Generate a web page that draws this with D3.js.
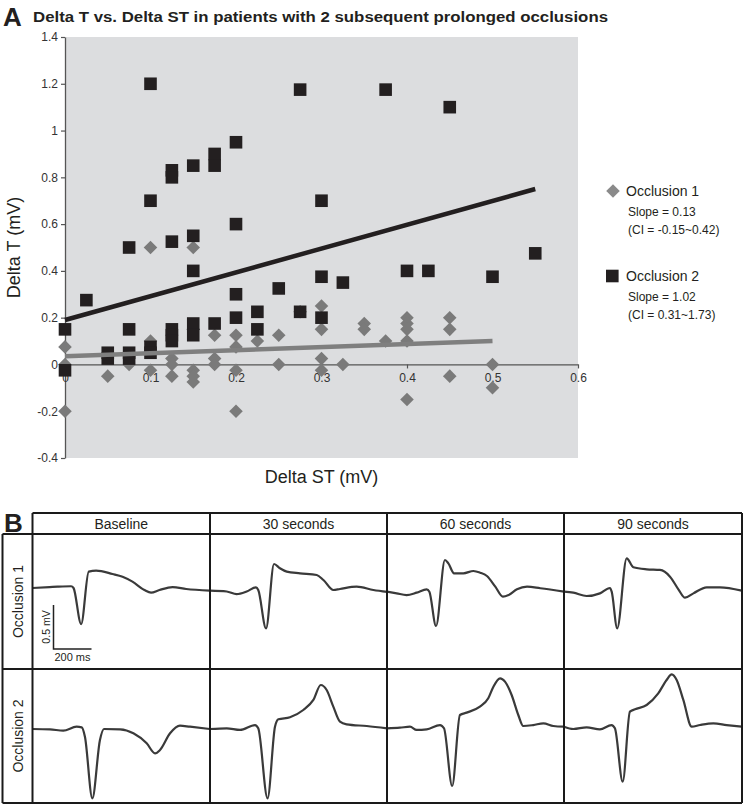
<!DOCTYPE html>
<html><head><meta charset="utf-8">
<script src="https://cdn.jsdelivr.net/npm/d3@7"></script>
<style>
body{margin:0;background:#fff;}
svg{display:block;font-family:"Liberation Sans",Arial,sans-serif;}
</style></head>
<body>
<svg id="chart" width="743" height="805"></svg>
<script>
// ---------- Panel A data ----------
const xTicks = [0, 0.1, 0.2, 0.3, 0.4, 0.5, 0.6];
const yTicks = [1.4, 1.2, 1, 0.8, 0.6, 0.4, 0.2, 0, -0.2, -0.4];
// Occlusion 1 (grey diamonds): [delta ST, delta T]
const occlusion1 = [
  [0,0.075],[0,0],[0,-0.2],[0.05,-0.05],[0.075,0],[0.1,0.5],[0.1,0.1],[0.1,-0.025],
  [0.125,0.025],[0.125,0],[0.125,-0.05],[0.15,0.5],[0.15,0.15],[0.15,-0.025],[0.15,-0.05],[0.15,-0.075],
  [0.175,0.125],[0.175,0.025],[0.175,0],[0.2,0.125],[0.2,0.075],[0.2,-0.025],[0.2,-0.2],
  [0.225,0.1],[0.25,0.125],[0.25,0],[0.275,0.225],[0.3,0.25],[0.3,0.15],[0.3,0.025],[0.3,-0.025],
  [0.325,0],[0.35,0.175],[0.35,0.15],[0.375,0.1],[0.4,0.2],[0.4,0.175],[0.4,0.15],[0.4,0.1],[0.4,-0.15],
  [0.45,0.2],[0.45,0.15],[0.45,-0.05],[0.5,0],[0.5,-0.1]
];
// Occlusion 2 (black squares)
const occlusion2 = [
  [0,0.15],[0,-0.025],[0.025,0.275],[0.05,0.05],[0.05,0.025],[0.075,0.5],[0.075,0.15],[0.075,0.05],[0.075,0.025],
  [0.1,1.2],[0.1,0.7],[0.1,0.075],[0.1,0.05],[0.125,0.83],[0.125,0.8],[0.125,0.525],[0.125,0.15],[0.125,0.125],[0.125,0.1],
  [0.15,0.85],[0.15,0.55],[0.15,0.4],[0.15,0.175],[0.15,0.125],[0.175,0.9],[0.175,0.85],[0.175,0.175],
  [0.2,0.95],[0.2,0.6],[0.2,0.3],[0.2,0.2],[0.225,0.225],[0.225,0.15],[0.25,0.325],[0.275,1.175],[0.275,0.225],
  [0.3,0.7],[0.3,0.375],[0.3,0.2],[0.325,0.35],[0.375,1.175],[0.4,0.4],[0.425,0.4],[0.45,1.1],[0.5,0.375],[0.55,0.475]
];
const trend1 = [[0,0.035],[0.5,0.1]];
const trend2 = [[0,0.19],[0.55,0.75]];
const legendNames = ["Occlusion 1","Occlusion 2"];
const legendSlopes = ["Slope = 0.13","Slope = 1.02"];
const legendCI = ["(CI = -0.15~0.42)","(CI = 0.31~1.73)"];

// ---------- Panel B data (ECG traces: [ms, mV]) ----------
const columnLabels = ["Baseline","30 seconds","60 seconds","90 seconds"];
const rowLabels = ["Occlusion 1","Occlusion 2"];
const occ1Baseline = [[0,0],[90,0.01],[132,0.015],[203,0.02],[216,0],[256,-0.41],[296,0.186],[335,0.197],[421,0.159],[474,0.128],[526,0.072],[589,-0.023],[624,-0.053],[668,-0.023],[737,0.011],[809,-0.011],[932,-0.03]];
const occ1Sec30 = [[0,-0.03],[88,-0.04],[140,-0.07],[193,-0.04],[242,0.008],[254,-0.023],[295,-0.459],[337,0.273],[368,0.224],[404,0.186],[474,0.167],[562,0.148],[597,0.091],[649,-0.023],[684,-0.011],[772,0.015],[860,-0.023],[932,-0.045]];
const occ1Sec60 = [[0,-0.042],[51,-0.061],[103,-0.08],[156,-0.053],[209,-0.015],[223,-0.042],[258,-0.432],[305,0.318],[323,0.28],[353,0.167],[402,0.167],[455,0.193],[490,0.174],[526,0.136],[570,0.015],[610,-0.099],[640,-0.08],[684,-0.015],[737,0.015],[807,-0.003],[932,-0.042]];
const occ1Sec90 = [[0,-0.042],[49,-0.053],[119,-0.091],[189,-0.061],[242,0],[251,-0.042],[280,-0.458],[330,0.337],[365,0.235],[435,0.212],[505,0.205],[558,0.129],[602,-0.015],[637,-0.11],[681,-0.061],[751,0.008],[821,0.008],[935,-0.03]];
const occ2Baseline = [[0,0],[92,-0.004],[162,-0.019],[232,0.026],[259,0.019],[276,-0.087],[315,-0.788],[355,-0.125],[376,0],[461,-0.004],[531,-0.049],[601,-0.163],[645,-0.277],[671,-0.239],[724,-0.049],[776,0.038],[829,0.026],[934,0]];
const occ2Sec30 = [[0,0],[88,0.008],[158,-0.011],[237,0.045],[254,0.008],[303,-0.788],[342,0.026],[360,0.11],[421,0.133],[491,0.216],[544,0.33],[583,0.5],[614,0.443],[649,0.254],[684,0.083],[719,0.053],[825,0.034],[932,0.008]];
const occ2Sec60 = [[0,0.008],[68,0.015],[121,0.026],[156,-0.011],[209,-0.004],[279,0.045],[300,0.008],[343,-0.648],[384,0.159],[419,0.186],[489,0.253],[533,0.349],[560,0.481],[595,0.576],[621,0.538],[656,0.386],[691,0.159],[717,0.034],[770,0.045],[823,0.064],[875,0.034],[932,0.026]];
const occ2Sec90 = [[0,0.026],[49,0],[119,0.019],[189,-0.004],[250,0.045],[268,0.008],[309,-0.599],[347,0.197],[374,0.224],[435,0.273],[496,0.405],[540,0.557],[567,0.621],[593,0.557],[628,0.33],[672,0.026],[716,0.045],[786,0.064],[856,0.045],[935,0.026]];
const scaleBarMv = 0.5, scaleBarMs = 200;

// ---------- Draw ----------
const svg = d3.select("#chart");
const ink = "#231f20";

// Panel A
svg.append("text").attr("x",3).attr("y",26).attr("font-size",26).attr("font-weight","bold").attr("fill",ink).text("A");
svg.append("text").attr("x",33).attr("y",22).attr("font-size",14.5).attr("font-weight","bold").attr("fill",ink)
  .attr("textLength",575).attr("lengthAdjust","spacingAndGlyphs")
  .text("Delta T vs. Delta ST in patients with 2 subsequent prolonged occlusions");

const x = d3.scaleLinear().domain([0,0.6]).range([65,578]);
const y = d3.scaleLinear().domain([-0.4,1.4]).range([458,37]);

svg.append("rect").attr("x",x(0)).attr("y",y(1.4)).attr("width",x(0.6)-x(0)).attr("height",y(-0.4)-y(1.4)).attr("fill","#dcdddf");

const yAxis = svg.append("g").attr("transform",`translate(${x(0)},0)`)
  .call(d3.axisLeft(y).tickValues(yTicks).tickSize(4).tickSizeOuter(0).tickFormat(d=>String(d)));
const xAxis = svg.append("g").attr("transform",`translate(0,${y(0)})`)
  .call(d3.axisBottom(x).tickValues(xTicks).tickSize(4).tickSizeOuter(0).tickFormat(d=>String(d)));
[yAxis,xAxis].forEach(g=>{
  g.select(".domain").attr("stroke","#555").attr("stroke-width",1.3);
  g.selectAll(".tick line").attr("stroke","#555").attr("stroke-width",1.2);
  g.selectAll(".tick text").attr("font-size",12).attr("fill","#333").attr("font-family","Liberation Sans, Arial, sans-serif");
});
yAxis.selectAll(".tick text").attr("x",-7);
xAxis.selectAll(".tick text").attr("y",9);

svg.append("text").attr("transform",`translate(20,${(y(1.4)+y(-0.4))/2}) rotate(-90)`).attr("text-anchor","middle")
  .attr("font-size",18).attr("fill",ink).text("Delta T (mV)");
svg.append("text").attr("x",(x(0)+x(0.6))/2).attr("y",483).attr("text-anchor","middle")
  .attr("font-size",18).attr("fill",ink).text("Delta ST (mV)");

const diamond = d3.symbol().type(d3.symbolSquare).size(92);
svg.append("g").selectAll("path").data(occlusion1).join("path")
  .attr("d",diamond).attr("transform",d=>`translate(${x(d[0])},${y(d[1])}) rotate(45)`).attr("fill","#7a7a7a");
svg.append("g").selectAll("rect").data(occlusion2).join("rect")
  .attr("x",d=>x(d[0])-6.3).attr("y",d=>y(d[1])-6.3).attr("width",12.6).attr("height",12.6).attr("fill",ink);

const ln = d3.line().x(d=>x(d[0])).y(d=>y(d[1]));
svg.append("path").attr("d",ln(trend1)).attr("stroke","#7f7f7f").attr("stroke-width",4.5).attr("fill","none");
svg.append("path").attr("d",ln(trend2)).attr("stroke",ink).attr("stroke-width",4.5).attr("fill","none");

// legend
const legY = [191, 276];
legendNames.forEach((n,i)=>{
  if(i===0){
    svg.append("path").attr("d",diamond).attr("transform",`translate(613,${legY[i]}) rotate(45)`).attr("fill","#8a8a8a");
  } else {
    svg.append("rect").attr("x",606).attr("y",legY[i]-6.3).attr("width",12.6).attr("height",12.6).attr("fill",ink);
  }
  svg.append("text").attr("x",626).attr("y",legY[i]+5).attr("font-size",14).attr("fill",ink).text(n);
  svg.append("text").attr("x",628).attr("y",legY[i]+25).attr("font-size",12).attr("fill",ink).text(legendSlopes[i]);
  svg.append("text").attr("x",628).attr("y",legY[i]+43).attr("font-size",12).attr("fill",ink).text(legendCI[i]);
});

// Panel B
const colLeft = [32.5,210,387,564,742];
const headTop = 513, headBot = 534, rowDiv = 669, bottom = 803, labLeft = 2.5;
const rowZero = [588, 729];
const msToPx = d3.scaleLinear().domain([0,scaleBarMs]).range([0,38]);
const rowY = rowZero.map(z=>d3.scaleLinear().domain([0,1]).range([z,z-88]));
const traces = [[occ1Baseline,occ1Sec30,occ1Sec60,occ1Sec90],[occ2Baseline,occ2Sec30,occ2Sec60,occ2Sec90]];

svg.append("text").attr("x",4).attr("y",532).attr("font-size",26).attr("font-weight","bold").attr("fill",ink).text("B");

traces.forEach((row,r)=>{
  row.forEach((tr,c)=>{
    const xs = v=>colLeft[c]+msToPx(v);
    const line = d3.line().x(d=>xs(d[0])).y(d=>rowY[r](d[1])).curve(d3.curveMonotoneX);
    svg.append("path").attr("d",line(tr)).attr("fill","none").attr("stroke","#3a3a3a").attr("stroke-width",2.2)
      .attr("stroke-linejoin","round");
  });
});

const grid = svg.append("g").attr("stroke","#1a1a1a").attr("stroke-width",2).attr("fill","none");
grid.append("line").attr("x1",colLeft[0]).attr("x2",colLeft[4]).attr("y1",headTop).attr("y2",headTop);
grid.append("line").attr("x1",labLeft).attr("x2",colLeft[4]).attr("y1",headBot).attr("y2",headBot);
grid.append("line").attr("x1",labLeft).attr("x2",colLeft[4]).attr("y1",rowDiv).attr("y2",rowDiv);
grid.append("line").attr("x1",labLeft).attr("x2",colLeft[4]).attr("y1",bottom).attr("y2",bottom);
grid.append("line").attr("x1",labLeft).attr("x2",labLeft).attr("y1",headBot).attr("y2",bottom);
colLeft.forEach(cx=>grid.append("line").attr("x1",cx).attr("x2",cx).attr("y1",headTop).attr("y2",bottom));

columnLabels.forEach((t,i)=>{
  svg.append("text").attr("x",(colLeft[i]+colLeft[i+1])/2).attr("y",(headTop+headBot)/2+5).attr("text-anchor","middle")
    .attr("font-size",14).attr("fill",ink).text(t);
});
rowLabels.forEach((t,i)=>{
  const cy = i===0 ? (headBot+rowDiv)/2 : (rowDiv+bottom)/2;
  svg.append("text").attr("transform",`translate(23,${cy}) rotate(-90)`).attr("text-anchor","middle")
    .attr("font-size",14).attr("fill",ink).text(t);
});

// scale bar
const sbX = 53.5, sbY = 649;
const sbV = rowY[0](0)-rowY[0](scaleBarMv);
svg.append("path").attr("d",`M${sbX},${sbY-sbV}V${sbY}H${sbX+msToPx(scaleBarMs)}`).attr("fill","none").attr("stroke","#222").attr("stroke-width",1.5);
svg.append("text").attr("transform",`translate(${sbX-4},${sbY-sbV/2}) rotate(-90)`).attr("text-anchor","middle")
  .attr("font-size",10.5).attr("fill",ink).text(scaleBarMv+" mV");
svg.append("text").attr("x",sbX+msToPx(scaleBarMs)/2).attr("y",sbY+12).attr("text-anchor","middle")
  .attr("font-size",11).attr("fill",ink).text(scaleBarMs+" ms");
</script>
</body></html>
